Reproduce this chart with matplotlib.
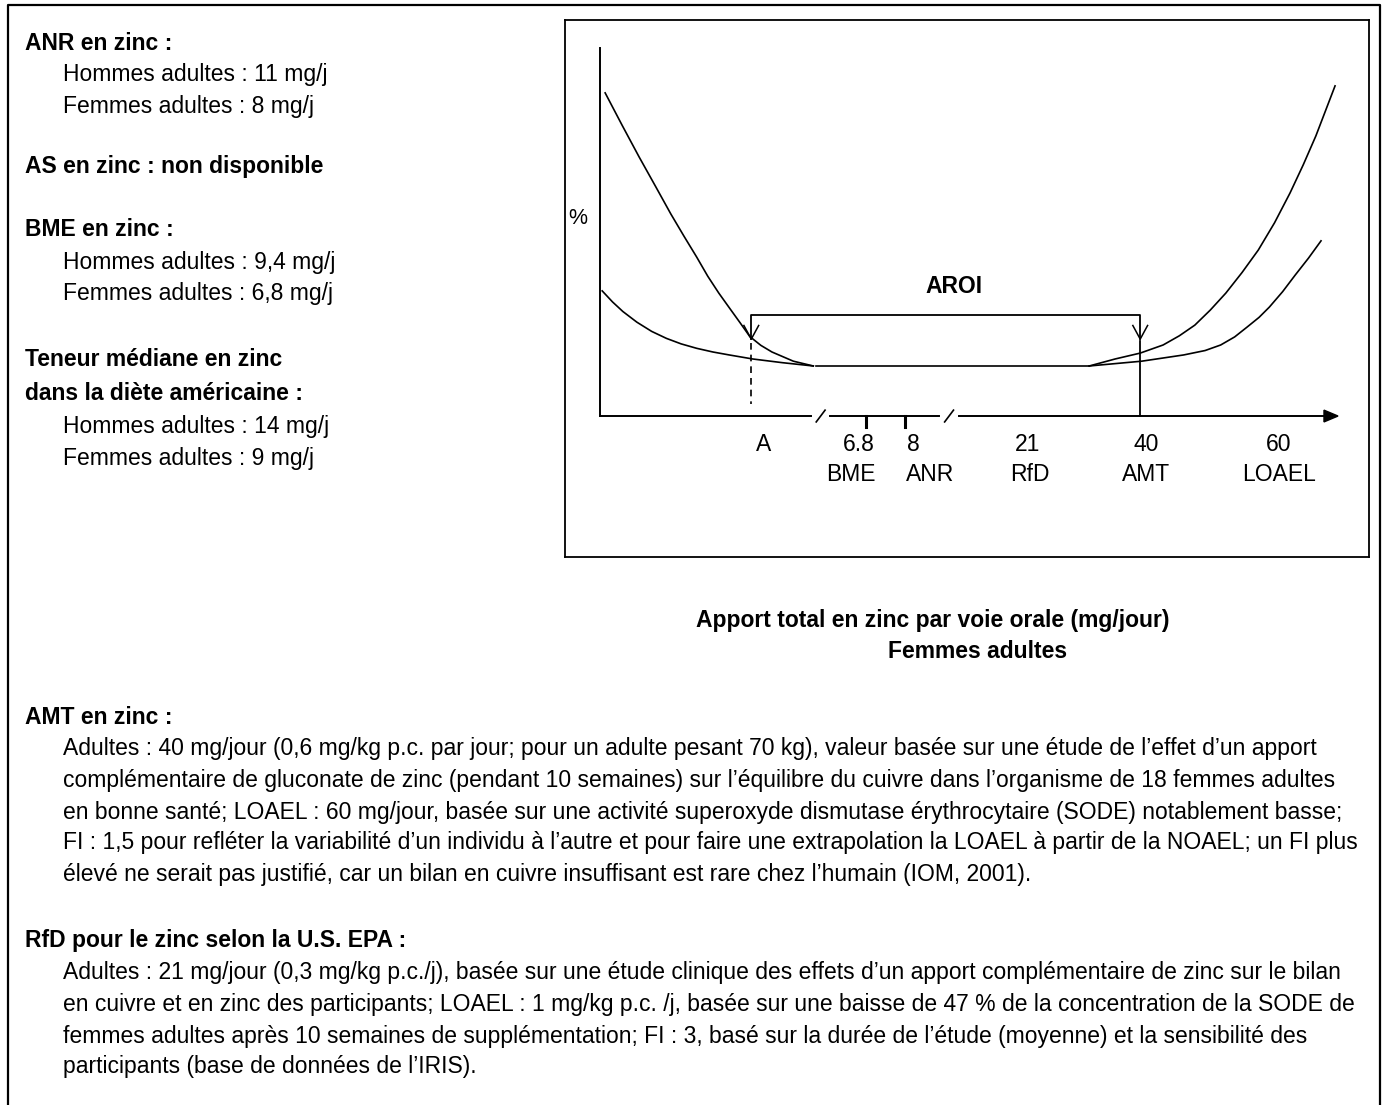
import matplotlib
matplotlib.use("Agg")
import matplotlib.pyplot as plt
from matplotlib.lines import Line2D

# Fonts and canvas
###############################################################################
plt.rcParams['font.family'] = ['Liberation Sans', 'DejaVu Sans']
W, H = 1385, 1105
FS = 16.5

# Data (schematic units: y-axis at x=0, arrow tip at x=100; x-axis at y=0)
###############################################################################
steep_left_x = [0.7, 3.0, 5.3, 7.5, 9.6, 11.4, 13.1, 14.6, 16.1, 17.6, 19.0, 20.3, 21.8, 23.3, 26.2, 28.9]
steep_left_y = [87.8, 79.0, 70.4, 62.5, 54.9, 48.8, 43.2, 38.0, 33.4, 29.2, 25.3, 21.6, 19.2, 17.4, 14.9, 13.6]
low_left_x = [0.3, 1.7, 3.1, 5.0, 7.0, 9.0, 11.0, 13.1, 15.3, 17.5, 20.7, 24.7, 28.9]
low_left_y = [34.0, 31.0, 28.4, 25.5, 23.0, 21.1, 19.6, 18.4, 17.4, 16.6, 15.5, 14.5, 13.6]
flat_x = [29.3, 66.3]
flat_y = [13.6, 13.6]
steep_right_x = [66.3, 69.8, 73.2, 76.3, 78.5, 80.6, 82.7, 84.8, 87.0, 89.2, 91.4, 93.5, 95.3, 97.0, 99.6]
steep_right_y = [13.6, 15.5, 17.1, 19.3, 21.8, 24.7, 28.8, 33.4, 39.0, 45.1, 52.5, 60.6, 68.3, 76.1, 89.7]
low_right_x = [66.3, 73.4, 79.1, 82.0, 84.1, 86.0, 87.7, 89.3, 90.7, 92.5, 94.2, 96.0, 97.7]
low_right_y = [13.6, 14.9, 16.6, 17.8, 19.3, 21.5, 24.2, 26.8, 29.6, 33.8, 38.3, 42.9, 47.6]

tick_values = ['A', '6.8', '8', '21', '40', '60']
tick_names = ['', 'BME', 'ANR', 'RfD', 'AMT', 'LOAEL']
tick_pos = [20.5, 36.0, 41.3, 58.0, 73.2, 92.0]
value_label_x = [22.2, 35.1, 42.4, 58.0, 74.0, 92.0]
name_label_x = [22.2, 34.0, 44.7, 58.3, 74.0, 92.0]
minor_ticks = [36.0, 41.3]
axis_breaks = [29.9, 47.3]
aroi_left, aroi_right, aroi_level = 20.5, 73.2, 27.4

left_lines = [
    ('ANR en zinc :', True),
    ('Hommes adultes : 11 mg/j', False),
    ('Femmes adultes : 8 mg/j', False),
    ('AS en zinc : non disponible', True),
    ('BME en zinc :', True),
    ('Hommes adultes : 9,4 mg/j', False),
    ('Femmes adultes : 6,8 mg/j', False),
    ('Teneur médiane en zinc', True),
    ('dans la diète américaine :', True),
    ('Hommes adultes : 14 mg/j', False),
    ('Femmes adultes : 9 mg/j', False),
]
left_y = [43, 75, 106, 167, 229, 262, 294, 360, 393, 426, 458]

bottom_lines = [
    ('AMT en zinc :', True),
    ('Adultes : 40 mg/jour (0,6 mg/kg p.c. par jour; pour un adulte pesant 70 kg), valeur basée sur une étude de l’effet d’un apport', False),
    ('complémentaire de gluconate de zinc (pendant 10 semaines) sur l’équilibre du cuivre dans l’organisme de 18 femmes adultes', False),
    ('en bonne santé; LOAEL : 60 mg/jour, basée sur une activité superoxyde dismutase érythrocytaire (SODE) notablement basse;', False),
    ('FI : 1,5 pour refléter la variabilité d’un individu à l’autre et pour faire une extrapolation la LOAEL à partir de la NOAEL; un FI plus', False),
    ('élevé ne serait pas justifié, car un bilan en cuivre insuffisant est rare chez l’humain (IOM, 2001).', False),
    ('RfD pour le zinc selon la U.S. EPA :', True),
    ('Adultes : 21 mg/jour (0,3 mg/kg p.c./j), basée sur une étude clinique des effets d’un apport complémentaire de zinc sur le bilan', False),
    ('en cuivre et en zinc des participants; LOAEL : 1 mg/kg p.c. /j, basée sur une baisse de 47 % de la concentration de la SODE de', False),
    ('femmes adultes après 10 semaines de supplémentation; FI : 3, basé sur la durée de l’étude (moyenne) et la sensibilité des', False),
    ('participants (base de données de l’IRIS).', False),
]
bottom_y = [717, 749, 780, 812, 843, 875, 940, 972, 1004, 1036, 1067]

x_title = 'Apport total en zinc par voie orale (mg/jour)'
x_subtitle = 'Femmes adultes'


def px_text(fig, x, y, s, **kw):
    fig.text(x / W, 1 - y / H, s, fontsize=kw.pop('fontsize', FS), **kw)


# Figure
###############################################################################
fig = plt.figure(figsize=(W / 100, H / 100), dpi=100)

# outer frame (open at the bottom)
frame = Line2D([8 / W, 8 / W, 1380 / W, 1380 / W], [0, 1 - 5 / H, 1 - 5 / H, 0],
               transform=fig.transFigure, color='black', lw=1.6)
fig.add_artist(frame)

# chart box
box_l, box_r, box_t, box_b = 565, 1369, 20, 557
ax = fig.add_axes([box_l / W, 1 - box_b / H, (box_r - box_l) / W, (box_b - box_t) / H])
ax.set_xlim(-4.74, 104.2)
ax.set_ylim(-38.3, 107.6)
ax.set_xticks([])
ax.set_yticks([])
for sp in ax.spines.values():
    sp.set_linewidth(1.3)

# y axis
ax.plot([0, 0], [0, 100], color='black', lw=1.4)
# x axis with two breaks
gap = 1.3
segs = [0] + [v for b in axis_breaks for v in (b - gap, b + gap)] + [98.1]
for i in range(0, len(segs), 2):
    ax.plot([segs[i], segs[i + 1]], [0, 0], color='black', lw=1.4)
for b in axis_breaks:
    ax.plot([b - 0.6, b + 0.6], [-1.6, 1.6], color='black', lw=1.2)
ax.fill([98.1, 100, 98.1], [1.6, 0, -1.6], color='black')
for t in minor_ticks:
    ax.plot([t, t], [0, -3.0], color='black', lw=2.2)

# curves
lw = 1.2
ax.plot(steep_left_x, steep_left_y, color='black', lw=lw)
ax.plot(low_left_x, low_left_y, color='black', lw=lw)
ax.plot(flat_x, flat_y, color='black', lw=lw)
ax.plot(steep_right_x, steep_right_y, color='black', lw=lw)
ax.plot(low_right_x, low_right_y, color='black', lw=lw)

# A (dashed) and AMT (solid) markers
ax.plot([tick_pos[0], tick_pos[0]], [19.8, 3.3], color='black', lw=1.2, ls=(0, (4, 3)))
ax.plot([tick_pos[4], tick_pos[4]], [20.4, 0], color='black', lw=1.3)

# AROI bracket with open arrowheads
ax.plot([aroi_left, aroi_left, aroi_right, aroi_right],
        [20.9, aroi_level, aroi_level, 20.9], color='black', lw=1.3)
for xa in (aroi_left, aroi_right):
    ax.plot([xa - 1.0, xa, xa + 1.0], [24.6, 20.9, 24.6], color='black', lw=1.1)
ax.text(48.0, 35.3, 'AROI', ha='center', va='center', fontsize=FS, fontweight='bold')
ax.text(-3.0, 53.8, '%', ha='center', va='center', fontsize=FS - 1)

# tick labels
for v, xv in zip(tick_values, value_label_x):
    ax.text(xv, -7.8, v, ha='center', va='center', fontsize=FS)
for n, xn in zip(tick_names, name_label_x):
    if n:
        ax.text(xn, -16.0, n, ha='center', va='center', fontsize=FS)

# axis title below the box
px_text(fig, 933, 620, x_title, ha='center', va='center', fontweight='bold')
px_text(fig, 978, 652, x_subtitle, ha='center', va='center', fontweight='bold')

# side notes
for (s, head), y in zip(left_lines, left_y):
    px_text(fig, 25 if head else 63, y, s, ha='left', va='center',
            fontweight='bold' if head else 'normal')

for (s, head), y in zip(bottom_lines, bottom_y):
    px_text(fig, 25 if head else 63, y, s, ha='left', va='center',
            fontweight='bold' if head else 'normal')

fig.savefig('out.png', dpi=100)
